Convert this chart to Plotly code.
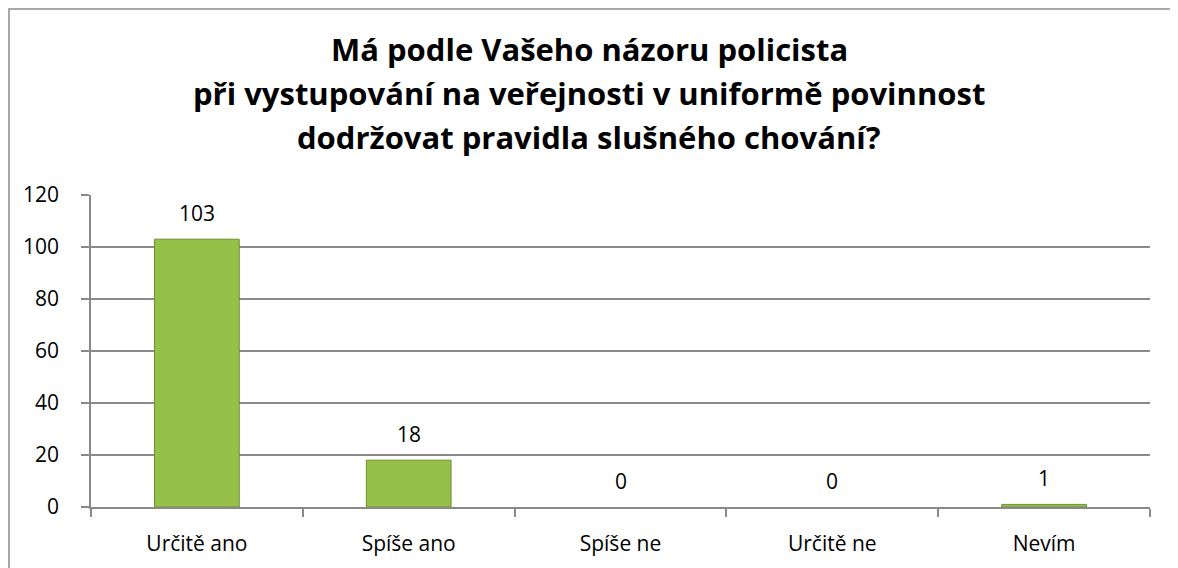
import plotly.graph_objects as go

categories = ["Určitě ano", "Spíše ano", "Spíše ne", "Určitě ne", "Nevím"]
values = [103, 18, 0, 0, 1]
y_ticks = [0, 20, 40, 60, 80, 100, 120]
title_lines = [
    "Má podle Vašeho názoru policista",
    "při vystupování na veřejnosti v uniformě povinnost",
    "dodržovat pravidla slušného chování?",
]

FONT = "'Open Sans', 'Noto Sans', sans-serif"
GRID = "#898989"

W, H = 1178, 568
L, R, T, B = 83, 36, 187, 69
PW, PH = W - L - R, H - T - B


def px_to_paper_y(y_fig):
    return (H - B - y_fig) / PH


def px_to_paper_x(x_fig):
    return (x_fig - L) / PW


edge_colors = ["#6f8f34" if v > 0 else "rgba(0,0,0,0)" for v in values]

fig = go.Figure()
fig.add_trace(go.Bar(
    x=categories,
    y=values,
    width=0.4,
    marker=dict(color="#96c149", line=dict(width=1, color=edge_colors)),
    hoverinfo="x+y",
))

# data labels above the bars
for c, v in zip(categories, values):
    fig.add_annotation(
        x=c, y=v, xref="x", yref="y",
        text=str(v), showarrow=False,
        yanchor="middle", yshift=26,
        font=dict(family=FONT, size=21, color="#000000"),
    )

# title lines
title_centers = [41, 85, 129]
for line, yc in zip(title_lines, title_centers):
    fig.add_annotation(
        x=px_to_paper_x(581), y=px_to_paper_y(yc), xref="paper", yref="paper",
        text=line, showarrow=False, xanchor="center", yanchor="middle",
        font=dict(family=FONT, size=31, color="#000000", weight="bold"),
    )

fig.update_layout(
    width=W, height=H,
    margin=dict(l=L, r=R, t=T, b=B),
    paper_bgcolor="white", plot_bgcolor="white",
    showlegend=False,
    font=dict(family=FONT, size=21, color="#000000"),
    bargap=0.6,
)

fig.update_xaxes(
    type="category",
    showline=True, linecolor=GRID, linewidth=1.5,
    ticks="outside", tickson="boundaries", ticklen=8, tickcolor=GRID, tickwidth=1.5,
    ticklabelstandoff=17,
    tickfont=dict(family=FONT, size=21, color="#000000"),
    showgrid=False, zeroline=False,
)
fig.update_yaxes(
    range=[0, 120],
    tickvals=y_ticks,
    ticktext=[str(t) for t in y_ticks],
    showline=True, linecolor=GRID, linewidth=1.5,
    ticks="outside", ticklen=8, tickcolor=GRID, tickwidth=1.5,
    ticklabelstandoff=18,
    showgrid=True, gridcolor=GRID, gridwidth=1.5,
    zeroline=False,
    tickfont=dict(family=FONT, size=21, color="#000000"),
)

# outer chart border (extends past the right and bottom edge, like the reference crop)
fig.add_shape(
    type="rect", xref="paper", yref="paper",
    x0=px_to_paper_x(1), x1=px_to_paper_x(W + 20),
    y0=px_to_paper_y(H + 20), y1=px_to_paper_y(1),
    line=dict(color="#8c8c8c", width=1.5), fillcolor="rgba(0,0,0,0)",
    layer="below",
)

fig.write_html("out.html")
